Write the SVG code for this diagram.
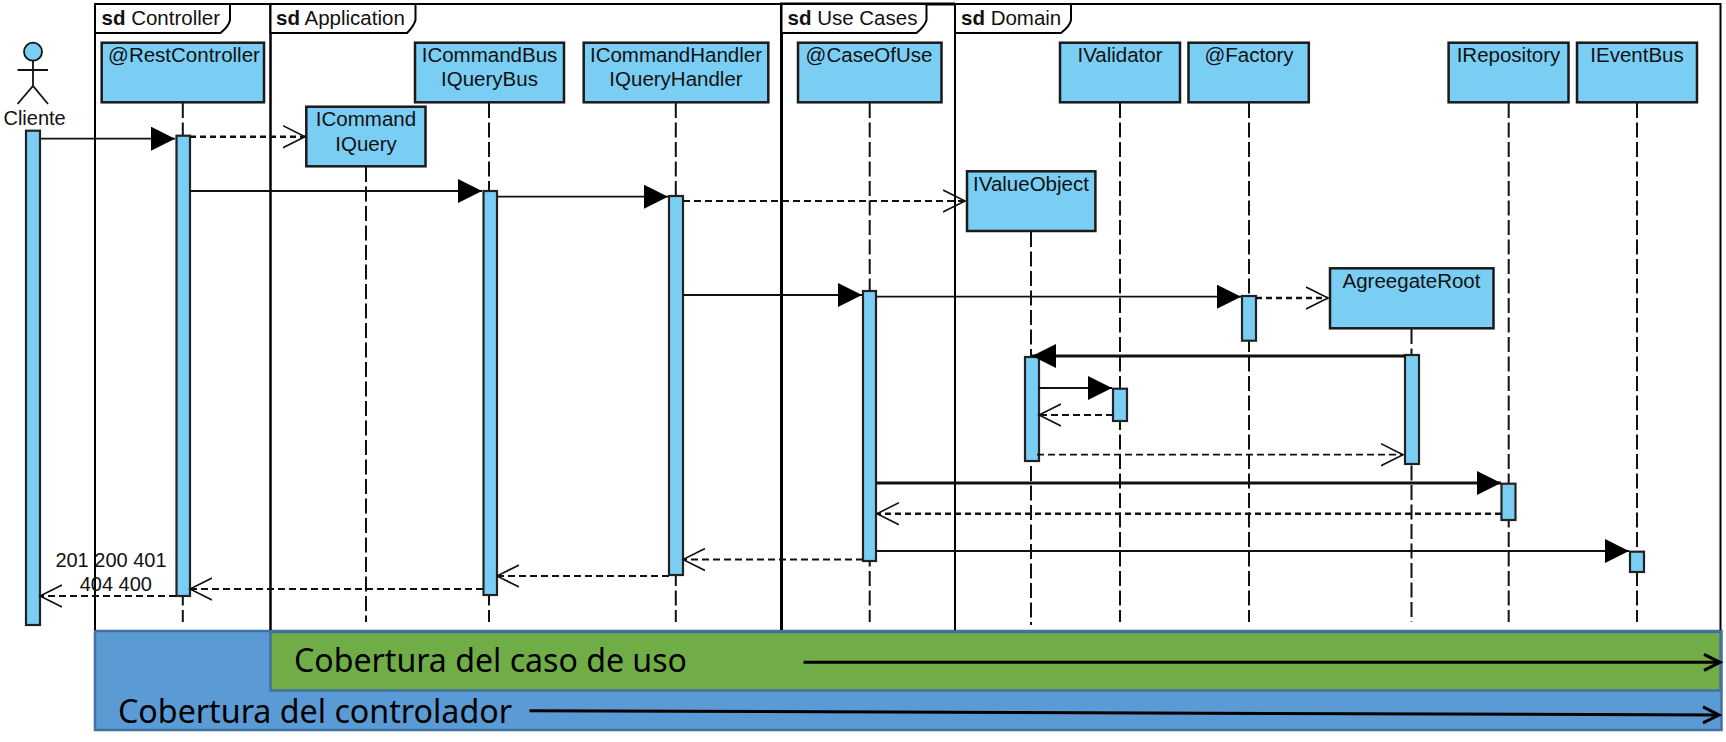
<svg xmlns="http://www.w3.org/2000/svg" width="1726" height="742" viewBox="0 0 1726 742">
<style>
text{font-family:"Liberation Sans",Arial,sans-serif;font-size:20.5px;fill:#111}
.m{text-anchor:middle}
.lbl{font-size:20px}
.cov{font-family:"Noto Sans","Open Sans",sans-serif;font-size:32px;fill:#000}
.f{fill:none;stroke:#000;stroke-width:2}
.tab{fill:#fff;stroke:#000;stroke-width:2}
.b{fill:#7acef4;stroke:#1a1a1a;stroke-width:2.5}
.a{fill:#7acef4;stroke:#222;stroke-width:2.2}
.l{stroke:#111;stroke-width:2;stroke-dasharray:15 4.5;fill:none}
.s{stroke:#111;stroke-width:1.8;fill:none;marker-end:url(#fa)}
.st{stroke:#111;stroke-width:2.8;fill:none;marker-end:url(#fa)}
.d{stroke:#111;stroke-width:1.8;stroke-dasharray:7 4;fill:none;marker-end:url(#oa)}
.dt{stroke:#111;stroke-width:2.6;stroke-dasharray:6 4;fill:none;marker-end:url(#oa)}
.c{stroke:#000;stroke-width:3;fill:none;marker-end:url(#ca)}
</style>
<defs>
<marker id="fa" markerUnits="userSpaceOnUse" markerWidth="25" markerHeight="25" refX="24" refY="12" orient="auto"><polygon points="0,0 24,12 0,24" fill="#000"/></marker>
<marker id="oa" markerUnits="userSpaceOnUse" markerWidth="24" markerHeight="24" refX="22" refY="12" orient="auto"><polyline points="0,1 22,12 0,23" fill="none" stroke="#111" stroke-width="1.6"/></marker>
<marker id="ca" markerUnits="userSpaceOnUse" markerWidth="20" markerHeight="20" refX="17" refY="10" orient="auto"><polyline points="1,2 17,10 1,18" fill="none" stroke="#000" stroke-width="3"/></marker>
</defs>

<g id="coverage">
<rect x="95" y="631" width="1626.5" height="99" fill="#5b9bd5" stroke="#41719c" stroke-width="2.5"/>
<rect x="270.5" y="632" width="1450" height="58.5" fill="#70ad47" stroke="#41719c" stroke-width="2.5"/>
<text class="cov" x="294" y="672" textLength="393" lengthAdjust="spacingAndGlyphs">Cobertura del caso de uso</text>
<text class="cov" x="118" y="723" textLength="394" lengthAdjust="spacingAndGlyphs">Cobertura del controlador</text>
</g>

<g id="frame-controller">
<path class="f" d="M95 630V4H270.5V630"/>
<path class="tab" d="M95 33V4H230V20Q229 26 220.5 33Z"/>
<text x="101.5" y="25"><tspan font-weight="bold">sd</tspan> Controller</text>
</g>
<g id="frame-application">
<path class="f" d="M270.5 630V4H781"/>
<path class="tab" d="M270.5 33V4H415.5V20Q414 26 407 33Z"/>
<text x="276" y="25"><tspan font-weight="bold">sd</tspan> Application</text>
</g>
<g id="frame-use-cases">
<path class="f" style="stroke-width:3" d="M781.5 630V4H955"/>
<path class="tab" d="M781.5 33V4H926.5V20Q925 26 916.5 33Z"/>
<text x="787.5" y="25"><tspan font-weight="bold">sd</tspan> Use Cases</text>
</g>
<g id="frame-domain">
<path class="f" d="M955 630V4H1720.5V630"/>
<path class="tab" d="M955 33V4H1071V20Q1070 26 1061 33Z"/>
<text x="961" y="25"><tspan font-weight="bold">sd</tspan> Domain</text>
</g>

<g id="lifelines">
<path class="l" d="M182.8 103V622"/>
<path class="l" d="M366 167V622"/>
<path class="l" d="M489 103V622"/>
<path class="l" d="M675.8 103V622"/>
<path class="l" d="M869.7 103V622"/>
<path class="l" d="M1031 232V625"/>
<path class="l" d="M1120 103V622"/>
<path class="l" d="M1249 103V622"/>
<path class="l" d="M1411.5 329V622"/>
<path class="l" d="M1508.7 103V622"/>
<path class="l" d="M1637 103V622"/>
</g>

<g id="actor-cliente" fill="none" stroke="#111" stroke-width="1.8">
<circle cx="33" cy="51.7" r="9" fill="#7acef4"/>
<path d="M33 61V86M17.5 70H48M17.5 104L33 86L48 104"/>
<text class="m lbl" x="34.6" y="125" stroke="none">Cliente</text>
</g>

<g id="node-restcontroller"><rect class="b" x="101.7" y="42.7" width="162.3" height="59.6"/><text class="m" x="184" y="61.5">@RestController</text></g>
<g id="node-icommand"><rect class="b" x="306.3" y="106.7" width="119.2" height="59.6"/><text class="m" x="366" y="126">ICommand</text><text class="m" x="366" y="151">IQuery</text></g>
<g id="node-icommandbus"><rect class="b" x="415" y="42.7" width="149" height="59.6"/><text class="m" x="489.5" y="61.5">ICommandBus</text><text class="m" x="489.5" y="86">IQueryBus</text></g>
<g id="node-icommandhandler"><rect class="b" x="583.7" y="42.7" width="184.6" height="59.6"/><text class="m" x="676" y="61.5">ICommandHandler</text><text class="m" x="676" y="86">IQueryHandler</text></g>
<g id="node-caseofuse"><rect class="b" x="798" y="42.7" width="143.5" height="59.6"/><text class="m" x="869" y="61.5">@CaseOfUse</text></g>
<g id="node-ivalueobject"><rect class="b" x="967" y="171.3" width="128.4" height="59.7"/><text class="m" x="1031" y="191">IValueObject</text></g>
<g id="node-ivalidator"><rect class="b" x="1060" y="42.7" width="120" height="59.6"/><text class="m" x="1120" y="61.5">IValidator</text></g>
<g id="node-factory"><rect class="b" x="1188.5" y="42.7" width="120.3" height="59.6"/><text class="m" x="1249" y="61.5">@Factory</text></g>
<g id="node-agreegateroot"><rect class="b" x="1330" y="268.3" width="163.5" height="60"/><text class="m" x="1411.5" y="288">AgreegateRoot</text></g>
<g id="node-irepository"><rect class="b" x="1448.6" y="42.7" width="119.9" height="59.6"/><text class="m" x="1508.5" y="61.5">IRepository</text></g>
<g id="node-ieventbus"><rect class="b" x="1577" y="42.7" width="120" height="59.6"/><text class="m" x="1637" y="61.5">IEventBus</text></g>

<g id="activations">
<rect class="a" x="26" y="130.7" width="14" height="494.3"/>
<rect class="a" x="176.5" y="135.7" width="13.5" height="460.3"/>
<rect class="a" x="483.5" y="191" width="13.5" height="404"/>
<rect class="a" x="669" y="196" width="14" height="379"/>
<rect class="a" x="863" y="291" width="13" height="270"/>
<rect class="a" x="1242" y="296" width="14" height="44.7"/>
<rect class="a" x="1025" y="357" width="14" height="104"/>
<rect class="a" x="1113" y="388.7" width="14" height="32.3"/>
<rect class="a" x="1405" y="355" width="14" height="109"/>
<rect class="a" x="1501.5" y="483.7" width="14" height="36.3"/>
<rect class="a" x="1630" y="551.7" width="14" height="20.3"/>
</g>

<g id="connectors">
<path class="s" d="M40 138.7H175"/>
<path class="dt" d="M190 136.7H305"/>
<path class="s" d="M190 191H482"/>
<path class="s" d="M497 196.7H668"/>
<path class="d" d="M683 201H965"/>
<path class="s" d="M683 295H862"/>
<path class="s" d="M876 296.7H1241"/>
<path class="dt" d="M1256 298H1328"/>
<path class="st" d="M1405 356H1032"/>
<path class="s" d="M1038 388H1112"/>
<path class="d" d="M1113 415H1039"/>
<path class="d" d="M1037 454.7H1403"/>
<path class="st" d="M876 483H1501"/>
<path class="dt" d="M1501 513.7H877"/>
<path class="s" d="M876 551H1629"/>
<path class="d" d="M863 559.5H683"/>
<path class="d" d="M669 576H497"/>
<path class="d" d="M483 589H190"/>
<path class="d" d="M176 596H40"/>
<path class="c" d="M803.5 662.3H1720"/>
<path class="c" d="M529.5 710.7L1719 715"/>
</g>

<g id="message-label">
<text class="m lbl" x="111" y="566.5">201 200 401</text>
<text class="m lbl" x="115.8" y="591">404 400</text>
</g>
</svg>
